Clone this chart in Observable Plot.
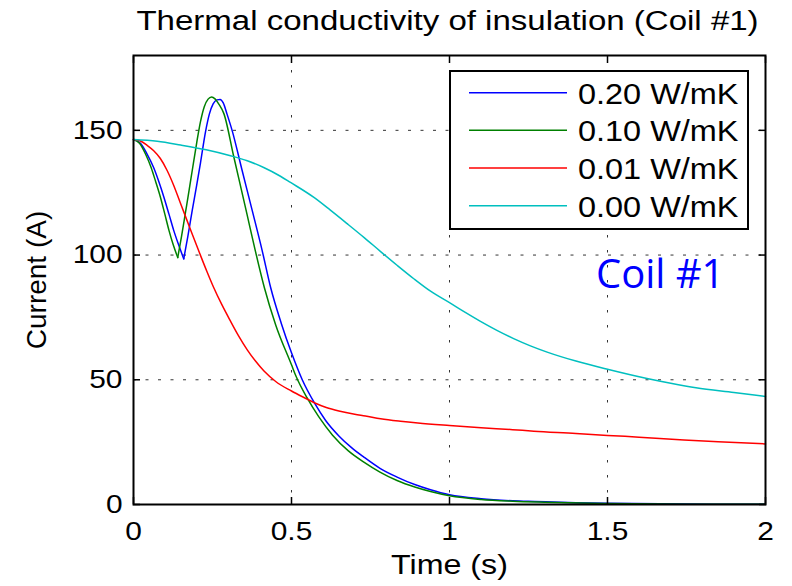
<!DOCTYPE html>
<html><head><meta charset="utf-8">
<script src="https://cdn.jsdelivr.net/npm/d3@7"></script>
<script src="https://cdn.jsdelivr.net/npm/@observablehq/plot@0.6"></script>
<style>
body{margin:0;background:#fff;}
#wrap{position:relative;width:792px;height:586px;overflow:hidden;}
#legend{position:absolute;left:449px;top:70px;width:296px;height:156px;border:2px solid #000;background:#fff;}
</style></head><body><div id="wrap"></div>
<script>
// ---- data ----
const titleText = "Thermal conductivity of insulation (Coil #1)";
const xLabel = "Time (s)";
const yLabel = "Current (A)";
const noteText = "Coil #1";
const seriesLabels = ["0.20 W/mK", "0.10 W/mK", "0.01 W/mK", "0.00 W/mK"];
const seriesColors = ["#0000ff", "#008000", "#ff0000", "#00bfbf"];
const xTicks = [0, 0.5, 1, 1.5, 2];
const yTicks = [0, 50, 100, 150];

// [time (s), current (A)]
const k020 = [[0,146.3],[0.022,144.8],[0.043,140.5],[0.064,135],[0.08,129.5],[0.096,123.3],[0.112,116.5],[0.127,110],[0.143,104],[0.159,98.5],[0.172,107.5],[0.186,118],[0.2,128],[0.212,137],[0.228,149.5],[0.24,156.5],[0.252,160.6],[0.264,162.2],[0.274,162.4],[0.284,161],[0.296,156.5],[0.312,150],[0.343,134.3],[0.375,118.2],[0.407,101.9],[0.434,87],[0.468,72.5],[0.5,60.8],[0.534,50],[0.574,40.4],[0.608,33.7],[0.65,27.5],[0.69,22.8],[0.729,19],[0.78,14.5],[0.834,11],[0.89,8],[0.94,5.9],[1.0,3.9],[1.1,2.3],[1.2,1.5],[1.27,1.2],[1.4,0.7],[1.5,0.5],[1.75,0.2],[2,0.1]];
const k010 = [[0,146.3],[0.019,144.8],[0.038,140.5],[0.056,135],[0.07,129.5],[0.085,123.3],[0.099,116.5],[0.112,110],[0.126,104],[0.14,99],[0.152,107.5],[0.165,117.5],[0.176,126],[0.186,134],[0.2,145],[0.212,153.5],[0.224,159.5],[0.236,162.5],[0.247,163.4],[0.258,162.6],[0.27,160.5],[0.286,156.7],[0.317,139.6],[0.36,115.9],[0.385,102],[0.414,87],[0.45,72],[0.5,56],[0.514,51.5],[0.549,42.8],[0.586,35.2],[0.63,27.8],[0.68,21.5],[0.729,17],[0.78,13],[0.834,9.6],[0.89,7],[0.94,5.2],[1.0,3.5],[1.1,2],[1.2,1.3],[1.3,0.9],[1.5,0.4],[1.75,0.15],[2,0.1]];
const k001 = [[0,146.3],[0.02,145.8],[0.043,144],[0.064,141.8],[0.085,138.7],[0.106,134],[0.127,128],[0.148,121],[0.169,114],[0.19,107],[0.21,100.5],[0.232,93.5],[0.253,87.2],[0.28,80],[0.307,73.5],[0.333,67.5],[0.36,62],[0.386,57.5],[0.413,53.5],[0.45,49.3],[0.5,45.5],[0.544,42.6],[0.574,40.7],[0.61,38.9],[0.65,37.5],[0.7,36.2],[0.734,35.5],[0.782,34.4],[0.845,33.4],[0.9,32.7],[1.0,31.7],[1.1,30.8],[1.2,30],[1.267,29.4],[1.4,28.5],[1.5,27.7],[1.6,27],[1.742,25.9],[1.85,25.2],[2,24.3]];
const k000 = [[0,146.3],[0.075,145.6],[0.149,144.1],[0.23,142.2],[0.307,139.8],[0.36,137.8],[0.412,135.1],[0.465,131.6],[0.497,129.1],[0.571,123.1],[0.623,118],[0.676,112.6],[0.73,107],[0.782,101.4],[0.835,95.8],[0.887,90.5],[0.94,85.5],[1.0,80.9],[1.05,77],[1.098,73.4],[1.15,69.8],[1.203,66.5],[1.256,63.6],[1.309,61.1],[1.4,57.5],[1.5,54.2],[1.625,50.5],[1.7,48.6],[1.78,46.8],[1.9,44.9],[2,43.3]];
const seriesData = [k020, k010, k001, k000];

// split a series at its early minimum so that the V-shaped dip stays sharp
function pieces(s) {
  const early = s.filter(d => d[0] < 0.2);
  const i = d3.minIndex(early, d => d[1]);
  if (i <= 0 || i >= early.length - 1) return [s];
  return [s.slice(0, i + 1), s.slice(i)];
}

// ---- chart ----
const plot = Plot.plot({
  width: 792, height: 586,
  marginLeft: 133, marginRight: 27, marginTop: 55, marginBottom: 82,
  x: {domain: [0, 2]},
  y: {domain: [0, 180]},
  style: {fontFamily: "'Liberation Sans', Arial, sans-serif", fontSize: "26px", color: "#000", background: "#fff", overflow: "visible"},
  marks: [
    Plot.gridX(xTicks, {stroke: "#333", strokeOpacity: 1, strokeWidth: 1, strokeDasharray: "2.5,12.5"}),
    Plot.gridY(yTicks, {stroke: "#333", strokeOpacity: 1, strokeWidth: 1, strokeDasharray: "3,9.5"}),
    ...seriesData.flatMap((s, i) => pieces(s).map(p =>
      Plot.line(p, {x: d => d[0], y: d => d[1], stroke: seriesColors[i], strokeWidth: 1.5, curve: "monotone-x"}))),
    Plot.axisX(xTicks, {anchor: "bottom", tickSize: -7, tickPadding: 24, strokeWidth: 1.5, tickFormat: d => String(d), label: null, fontSize: 26}),
    Plot.axisX(xTicks, {anchor: "top", tickSize: -7, strokeWidth: 1.5, tickFormat: () => "", label: null}),
    Plot.axisY(yTicks, {anchor: "left", tickSize: -7, tickPadding: 18, strokeWidth: 1.5, tickFormat: d => String(d), label: null, fontSize: 26}),
    Plot.axisY(yTicks, {anchor: "right", tickSize: -7, strokeWidth: 1.5, tickFormat: () => "", label: null}),
    Plot.frame({stroke: "#000", strokeWidth: 2}),
    Plot.text([titleText], {frameAnchor: "top", dx: -2, dy: -26, lineAnchor: "bottom", textAnchor: "middle", fontSize: 28}),
    Plot.text([xLabel], {frameAnchor: "bottom", dy: 69, lineAnchor: "bottom", textAnchor: "middle", fontSize: 28}),
    Plot.text([yLabel], {frameAnchor: "left", dx: -88, rotate: -90, lineAnchor: "bottom", textAnchor: "middle", fontSize: 28}),
    Plot.text([noteText], {frameAnchor: "top-right", dx: -41, dy: 232, lineAnchor: "bottom", textAnchor: "end", fill: "#0000ff", fontSize: 40, fontFamily: "'Open Sans', sans-serif"})
  ]
});

// horizontal stretch of the Helvetica-like labels
plot.querySelectorAll("text").forEach(t => {
  const tr = t.getAttribute("transform") || "";
  if (tr.includes("rotate")) return;
  if (t.textContent === noteText) return;
  const k = t.textContent === titleText ? 1.18 : 1.15;
  let pre = tr;
  const xa = t.getAttribute("x");
  if (xa && !xa.endsWith("em")) { pre += ` translate(${xa},0)`; t.removeAttribute("x"); }
  t.setAttribute("transform", pre + ` scale(${k},1)`);
});

const wrap = document.getElementById("wrap");
wrap.appendChild(plot);

// ---- legend ----
const legend = d3.select(wrap).append("div").attr("id", "legend");
const lsvg = legend.append("svg").attr("width", 296).attr("height", 156)
  .style("font-family", "'Liberation Sans', Arial, sans-serif").style("font-size", "29px");
const rowY = d3.scalePoint().domain(seriesLabels).range([20.7, 133.7]);
seriesLabels.forEach((lab, i) => {
  const y = rowY(lab);
  lsvg.append("line").attr("x1", 18).attr("x2", 116).attr("y1", y).attr("y2", y)
    .attr("stroke", seriesColors[i]).attr("stroke-width", 1.5);
  lsvg.append("text").attr("transform", `translate(127,${y + 11}) scale(1.12,1)`).text(lab);
});
</script></body></html>
